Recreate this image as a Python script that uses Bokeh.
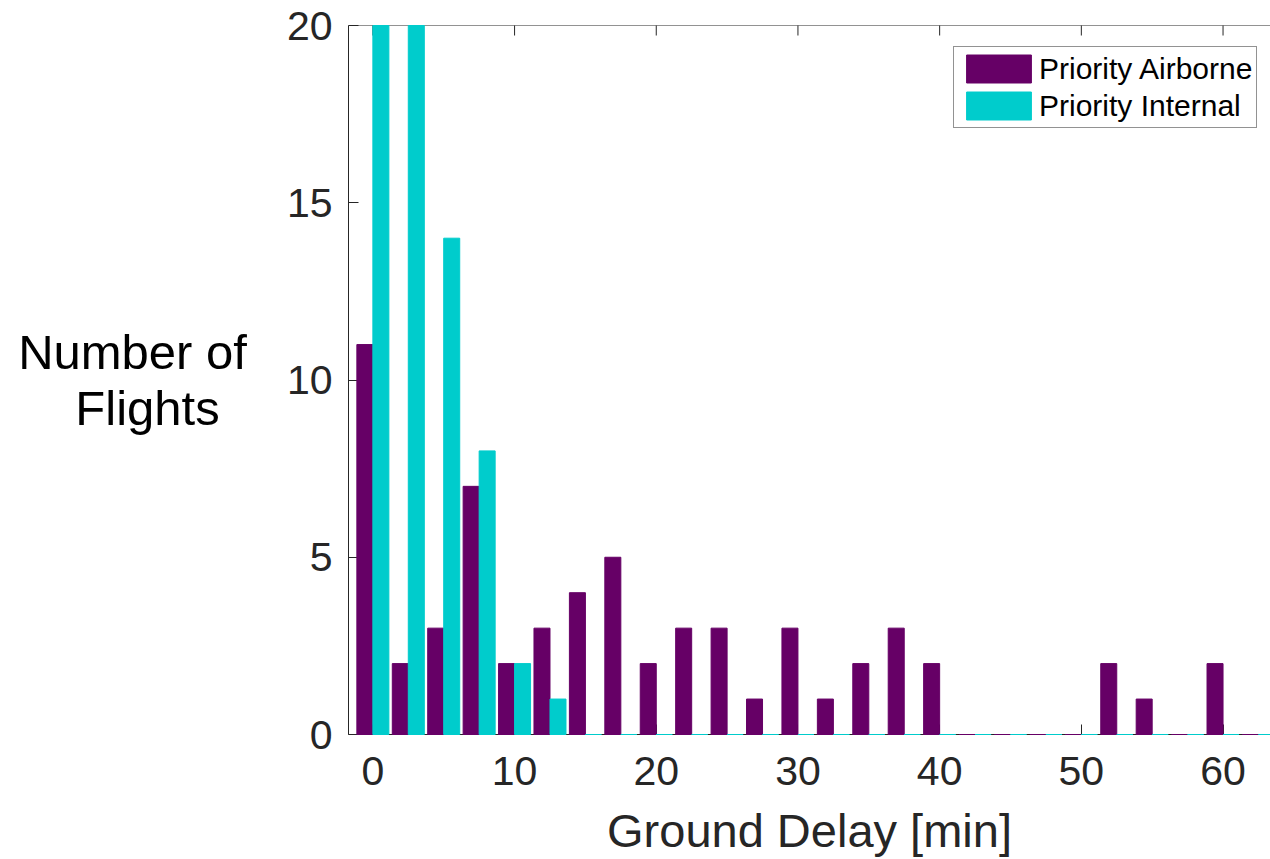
import math
from bokeh.plotting import figure
from bokeh.models import Range1d, LinearAxis, Legend, LegendItem, FixedTicker, ColumnDataSource, Span
from bokeh.transform import dodge
from bokeh.embed import file_html
from bokeh.resources import INLINE

# ---- data ----
delay_bins = [0, 2.5, 5, 7.5, 10, 12.5, 15, 17.5, 20, 22.5, 25, 27.5, 30,
              32.5, 35, 37.5, 40, 42.5, 45, 47.5, 50, 52.5, 55, 57.5, 60, 62.5]
priority_airborne = [11, 2, 3, 7, 2, 3, 4, 5, 2, 3, 3, 1, 3, 1, 2, 3, 2,
                     0, 0, 0, 0, 2, 1, 0, 2, 0]
priority_internal = [20, 20, 14, 8, 2, 1, 0, 0, 0, 0, 0, 0, 0, 0, 0, 0, 0,
                     0, 0, 0, 0, 0, 0, 0, 0, 0]
series_names = ["Priority Airborne", "Priority Internal"]
x_ticks = [0, 10, 20, 30, 40, 50, 60]
y_ticks = [0, 5, 10, 15, 20]
x_title = "Ground Delay [min]"
# two lines, the second padded with no-break spaces so it sits centred
y_title = "Number of\nFlights\u00a0\u00a0"

PURPLE = "#660066"
CYAN = "#00CCCC"
AX = "#262626"
FONT = "Liberation Sans"

src = ColumnDataSource(dict(x=delay_bins, a=priority_airborne, b=priority_internal))

Y_MAX = y_ticks[-1]
p = figure(frame_width=922, frame_height=709,
           x_range=Range1d(-1.72, 63.35), y_range=Range1d(0, Y_MAX),
           output_backend="svg", toolbar_location=None,
           x_axis_location=None, y_axis_location=None,
           min_border_left=348, min_border_right=0,
           min_border_top=25, min_border_bottom=10)
p.outline_line_color = None
p.xgrid.visible = False
p.ygrid.visible = False
p.background_fill_color = "white"
p.border_fill_color = "white"

bw = 1.13
r1 = p.vbar(x=dodge("x", -bw / 2, range=p.x_range), top="a", width=bw, source=src,
            fill_color=PURPLE, line_color=PURPLE, line_width=1)
r2 = p.vbar(x=dodge("x", bw / 2, range=p.x_range), top="b", width=bw, source=src,
            fill_color=CYAN, line_color=CYAN, line_width=1)
r1.level = "overlay"
r2.level = "overlay"

def style_axis(ax, ticks):
    ax.ticker = FixedTicker(ticks=ticks)
    ax.axis_line_color = AX
    ax.axis_line_width = 1
    ax.major_tick_line_color = AX
    ax.major_tick_in = 10
    ax.major_tick_out = 0
    ax.minor_tick_line_color = None
    ax.major_label_text_font = FONT
    ax.major_label_text_color = AX
    ax.major_label_text_font_size = "41px"

xb = LinearAxis()
style_axis(xb, x_ticks)
xb.major_label_standoff = 22
xb.axis_label = x_title
xb.axis_label_text_font = FONT
xb.axis_label_text_font_size = "47px"
xb.axis_label_text_font_style = "normal"
xb.axis_label_text_color = AX
xb.axis_label_standoff = 16
p.add_layout(xb, "below")

yl = LinearAxis()
style_axis(yl, y_ticks)
yl.major_label_standoff = 16
yl.axis_label = y_title
yl.axis_label_orientation = "horizontal"
yl.axis_label_text_align = "center"
yl.axis_label_text_font = FONT
yl.axis_label_text_font_size = "49px"
yl.axis_label_text_font_style = "normal"
yl.axis_label_text_color = "black"
yl.axis_label_text_line_height = 1.05
yl.axis_label_standoff = 37
p.add_layout(yl, "left")

# top box edge with inward ticks (the reference's right edge is cropped off)
p.add_layout(Span(location=Y_MAX, dimension="width", line_color=AX, line_width=1))
p.scatter(x=x_ticks, y=[Y_MAX] * len(x_ticks), marker="dash", angle=math.pi / 2,
          size=20, line_color=AX, line_width=1)

legend = Legend(items=[LegendItem(label=series_names[0], renderers=[r1]),
                       LegendItem(label=series_names[1], renderers=[r2])],
                location=(605, 606), orientation="vertical")
legend.label_text_font = FONT
legend.label_text_font_size = "30px"
legend.label_text_color = "black"
legend.glyph_width = 81
legend.glyph_height = 35
legend.label_standoff = 0
legend.padding = 4
legend.spacing = 2
legend.margin = 0
legend.border_line_color = AX
legend.border_line_width = 1
legend.background_fill_color = "white"
legend.background_fill_alpha = 1
p.add_layout(legend, "center")

open("out.html", "w").write(file_html(p, INLINE))
